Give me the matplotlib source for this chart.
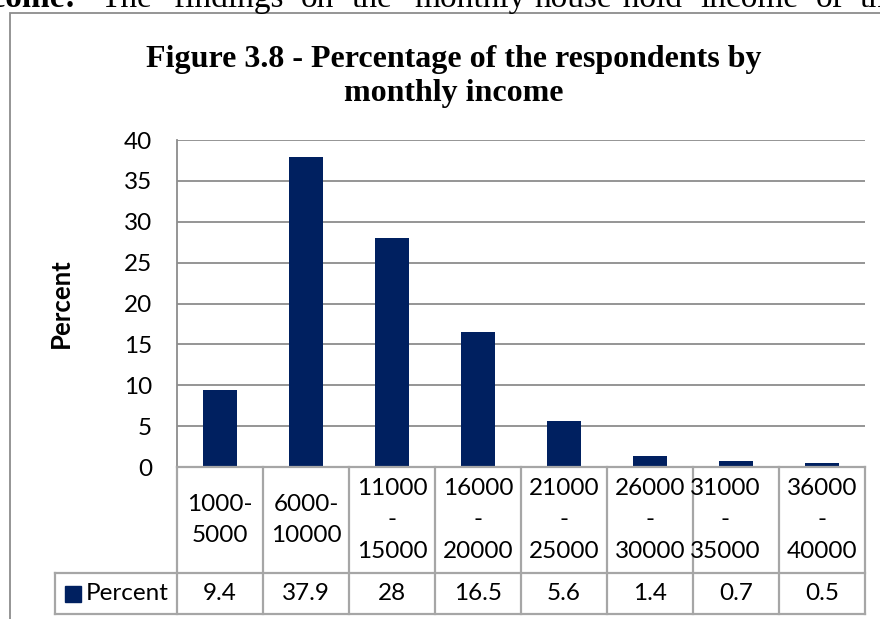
import numpy as np
import matplotlib.pyplot as plt
from matplotlib.patches import Rectangle

# data
categories = ['1000-\n5000', '6000-\n10000', '11000\n-\n15000', '16000\n-\n20000',
              '21000\n-\n25000', '26000\n-\n30000', '31000\n-\n35000', '36000\n-\n40000']
percent = [9.4, 37.9, 28, 16.5, 5.6, 1.4, 0.7, 0.5]
value_labels = ['9.4', '37.9', '28', '16.5', '5.6', '1.4', '0.7', '0.5']
series_name = 'Percent'
yticks = [0, 5, 10, 15, 20, 25, 30, 35, 40]
title = 'Figure 3.8 - Percentage of the respondents by\nmonthly income'

# line of body text above the chart (cut at the top of the page)
body_words = [('Income:', 77, 'right', 'bold'), ('The', 100, 'left', 'normal'),
              ('findings', 174, 'left', 'normal'), ('on', 301, 'left', 'normal'),
              ('the', 352, 'left', 'normal'), ('monthly', 414, 'left', 'normal'),
              ('house-hold', 535, 'left', 'normal'), ('income', 700, 'left', 'normal'),
              ('of', 816, 'left', 'normal'), ('the', 860, 'left', 'normal')]

W, H = 880, 619
bar_color = '#002060'
line_gray = '#a6a6a6'
grid_gray = '#8c8c8c'
sans = ['Lato', 'DejaVu Sans']
serif = ['Liberation Serif', 'DejaVu Serif']
fs = 17.5


def fx(px):
    return px / W


def fy(py):
    return 1 - py / H


fig = plt.figure(figsize=(W / 100, H / 100), dpi=100)

# body text
for word, xp, ha, weight in body_words:
    fig.text(fx(xp), fy(7), word, ha=ha, va='baseline', family=serif,
             fontsize=24, fontweight=weight, color='black')

# chart area frame
fig.patches.append(Rectangle((fx(10), -0.2), 1.2, fy(13) + 0.2, fill=False,
                             edgecolor=grid_gray, lw=1.3, transform=fig.transFigure))

# two-line title; baseline given for the last line
fig.text(fx(454), fy(101), title, ha='center', va='baseline', family=serif,
         fontsize=23, fontweight='bold', linespacing=1.22)

# plot area
ax = fig.add_axes([fx(177), fy(467), fx(865) - fx(177), fy(140) - fy(467)])
x = np.arange(len(percent))
ax.bar(x, percent, width=0.4, color=bar_color, zorder=3)
ax.set_xlim(-0.5, len(percent) - 0.5)
ax.set_ylim(0, 40)
ax.set_yticks(yticks)
ax.set_yticklabels([str(t) for t in yticks], family=sans, fontsize=fs)
ax.set_xticks([])
ax.yaxis.grid(True, color=grid_gray, lw=1.3)
ax.set_axisbelow(True)
for s in ['top', 'right', 'bottom']:
    ax.spines[s].set_visible(False)
ax.spines['left'].set_color(grid_gray)
ax.spines['left'].set_linewidth(1.3)
ax.tick_params(axis='y', length=0, pad=18)

fig.text(fx(61), fy(303), series_name, rotation=90, ha='center', va='center',
         family=sans, fontsize=18.5, fontweight='bold')

# data table under the plot
legend_w = 122 / 86
n = len(percent)
tax = fig.add_axes([fx(55), fy(614), fx(865) - fx(55), fy(467) - fy(614)])
left = -0.5 - legend_w
tax.set_xlim(left, n - 0.5)
tax.set_ylim(147, 0)
tax.axis('off')
row_split = 106

lk = dict(color=line_gray, lw=1.6, clip_on=False, solid_capstyle='projecting')
for i in range(n + 1):
    tax.plot([i - 0.5, i - 0.5], [0, 147], **lk)
tax.plot([left, left], [row_split, 147], **lk)
tax.plot([-0.5, n - 0.5], [0, 0], **lk)
tax.plot([left, n - 0.5], [row_split, row_split], **lk)
tax.plot([left, n - 0.5], [147, 147], **lk)

shift = [0, 0, 0, 0, 0, 0, -0.13, 0]
for i, lab in enumerate(categories):
    tax.text(i + shift[i], row_split / 2, lab, ha='center', va='center',
             family=sans, fontsize=fs, linespacing=1.6)
for i, v in enumerate(value_labels):
    tax.text(i, (row_split + 147) / 2, v, ha='center', va='center',
             family=sans, fontsize=fs)

tax.plot([left + 17.5 / 86], [(row_split + 147) / 2], marker='s', ms=11,
         color=bar_color, clip_on=False)
tax.text(left + 31 / 86, (row_split + 147) / 2, series_name, ha='left', va='center',
         family=sans, fontsize=fs)

fig.savefig('out.png', dpi=100)
